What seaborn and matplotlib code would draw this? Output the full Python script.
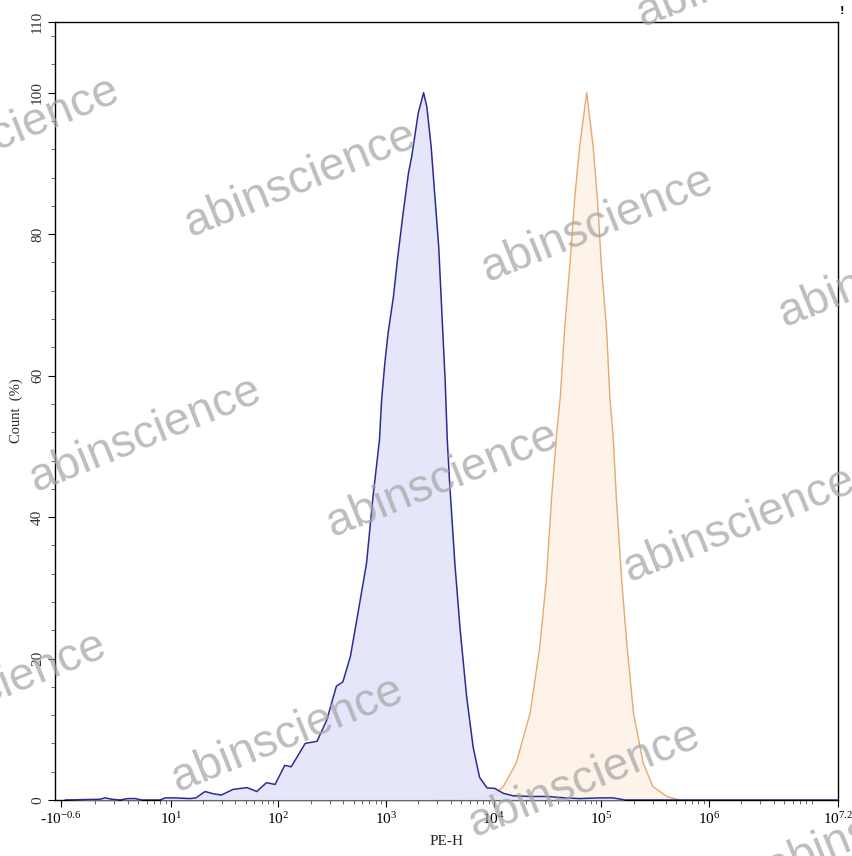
import numpy as np
import matplotlib
matplotlib.use("Agg")
import matplotlib.pyplot as plt
from matplotlib.ticker import FixedLocator, NullFormatter
import seaborn as sns

# ── data: PE-H histograms (x in log10 units, y = % of max count) ──
blue_log_pe = [0.02, 0.34, 0.39, 0.455, 0.53, 0.60, 0.67, 0.73, 0.90, 0.95, 1.04, 1.18,
               1.235, 1.32, 1.39, 1.47, 1.58, 1.71, 1.80, 1.89, 1.97, 2.06, 2.12, 2.25,
               2.36, 2.45, 2.54, 2.60, 2.67, 2.74, 2.82, 2.88, 2.94, 2.96, 2.99, 3.02,
               3.07, 3.11, 3.16, 3.21, 3.24, 3.30, 3.35, 3.38, 3.42, 3.455, 3.49, 3.52,
               3.55, 3.57, 3.59, 3.64, 3.69, 3.75, 3.81, 3.87, 3.94, 4.01, 4.09, 4.18,
               4.34, 4.50, 4.66, 4.80, 4.99, 5.11, 5.22, 5.6, 6.3, 7.2]
blue_count = [0.0, 0.1, 0.3, 0.1, 0.0, 0.2, 0.2, 0.0, 0.0, 0.3, 0.3, 0.2,
              0.3, 1.2, 0.9, 0.7, 1.5, 1.75, 1.2, 2.45, 2.2, 4.9, 4.7, 8.0,
              8.3, 11.3, 16.1, 16.7, 20.3, 26.4, 33.5, 42.9, 50.9, 56.6, 61.8, 66.0,
              71.2, 76.8, 83.0, 88.7, 91.0, 97.1, 100.0, 98.0, 92.4, 85.3, 78.3, 68.8,
              59.4, 50.9, 45.3, 33.5, 24.0, 14.6, 7.5, 3.2, 1.7, 1.65, 0.95, 0.6,
              0.5, 0.5, 0.3, 0.2, 0.3, 0.3, 0.0, 0.0, 0.0, 0.0]

orange_log_pe = [3.44, 3.69, 3.87, 4.00, 4.09, 4.21, 4.34, 4.43, 4.49, 4.54, 4.585,
                 4.62, 4.66, 4.71, 4.755, 4.80, 4.865, 4.925, 4.97, 5.00, 5.05, 5.08,
                 5.11, 5.14, 5.19, 5.24, 5.30, 5.39, 5.48, 5.61, 5.73]
orange_count = [0.0, 0.1, 0.3, 0.7, 1.9, 5.2, 12.3, 21.7, 31.1, 42.9, 51.6,
                57.0, 66.5, 75.9, 85.3, 92.4, 100.0, 92.4, 83.9, 75.9, 66.5, 57.0,
                51.6, 42.9, 31.1, 21.7, 12.3, 5.2, 1.9, 0.5, 0.0]

x_tick_vals = [-10 ** -0.6, 1e1, 1e2, 1e3, 1e4, 1e5, 1e6, 10 ** 7.2]
x_tick_labels = ["-$10^{-0.6}$", "$10^{1}$", "$10^{2}$", "$10^{3}$", "$10^{4}$",
                 "$10^{5}$", "$10^{6}$", "$10^{7.2}$"]
y_tick_vals = [0, 20, 40, 60, 80, 100, 110]

sns.set_theme(style="ticks")
plt.rcParams["font.family"] = ["Liberation Serif", "DejaVu Serif"]
plt.rcParams["mathtext.default"] = "regular"

fig = plt.figure(figsize=(8.53, 8.56), dpi=100)
ax = fig.add_axes([55 / 853, 1 - 800 / 856, 783 / 853, 778 / 856])

blue_x = 10 ** np.array(blue_log_pe)
orange_x = 10 ** np.array(orange_log_pe)

ax.fill_between(orange_x, orange_count, color="#fdf3e8", zorder=1, linewidth=0)
sns.lineplot(x=orange_x, y=orange_count, ax=ax, color="#e6aa6e", linewidth=1.0,
             sort=False, estimator=None, zorder=2)
ax.fill_between(blue_x, blue_count, color="#e4e4fa", alpha=0.9, zorder=3, linewidth=0)
sns.lineplot(x=blue_x, y=blue_count, ax=ax, color="#2b2b96", linewidth=1.1,
             sort=False, estimator=None, zorder=4)

# biexponential-like axis: tiny linear zone around zero, log above 1
ax.set_xscale("symlog", linthresh=1, linscale=0.0144)
ax.set_xlim(-1.103, 10 ** 7.2)
ax.set_ylim(0, 110)

ax.xaxis.set_major_locator(FixedLocator(x_tick_vals))
ax.set_xticklabels(x_tick_labels)
minor_x = [m * 10 ** k for k in range(0, 7) for m in range(2, 10) if m * 10 ** k < 10 ** 7.2]
ax.xaxis.set_minor_locator(FixedLocator(minor_x))
ax.xaxis.set_minor_formatter(NullFormatter())

ax.yaxis.set_major_locator(FixedLocator(y_tick_vals))
ax.set_yticklabels([str(v) for v in y_tick_vals], rotation=90, va="center")
ax.yaxis.set_minor_locator(FixedLocator(list(range(4, 110, 4))))

ax.tick_params(axis="both", which="major", direction="out", length=5, width=0.8,
               labelsize=11, colors="black", pad=3)
ax.tick_params(axis="both", which="minor", direction="out", length=3, width=0.6,
               colors="#555555")
ax.tick_params(axis="y", labelcolor="#333333")
for s in ax.spines.values():
    s.set_color("black")
    s.set_linewidth(1.0)

ax.set_xlabel("PE-H", fontsize=11, labelpad=6)
ax.set_ylabel("Count  (%)", fontsize=10.5, labelpad=6)

# watermark grid
for i in range(-2, 4):
    for j in range(-1, 4):
        cx = 300 + 297 * i - 155 * j
        cy = 180 + 45 * i + 255 * j
        if -160 < cx < 1010 and -120 < cy < 980:
            fig.text(cx / 853, 1 - cy / 856, "abinscience", rotation=22,
                     ha="center", va="center", rotation_mode="anchor",
                     fontsize=33.5, family="Liberation Sans",
                     color="#a4a4a4", alpha=0.72)

fig.text(842 / 853, 1 - 11 / 856, "!", fontsize=7, color="black",
         ha="center", va="center", family="DejaVu Sans", fontweight="bold")

fig.savefig("out.png", dpi=100)
